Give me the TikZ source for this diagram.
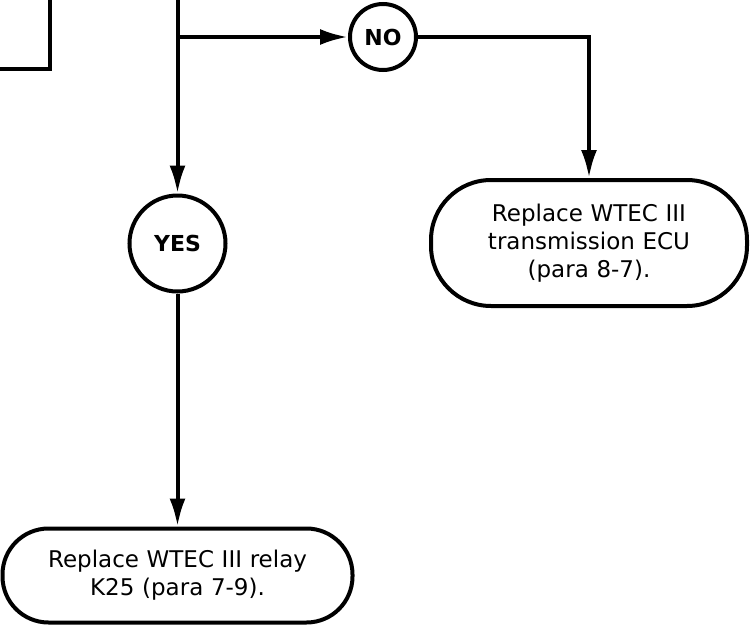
\documentclass[tikz,border=0pt]{standalone}
\usepackage{fontspec}
\setmainfont{DejaVu Sans}
\usetikzlibrary{arrows.meta}
\tikzset{
    answer/.style = {circle, draw=black, line width=2pt, font=\bfseries\fontsize{11}{13}\selectfont, inner sep=0pt},
    action/.style = {rectangle, draw=black, line width=2pt, text centered, font=\fontsize{11.5}{14}\selectfont},
    arrow/.style = {line width=2pt, -{Latex[length=14pt, width=8pt]}},
    line/.style = {line width=2pt}
}

\begin{document}
\begin{tikzpicture}[x=0.5pt, y=-0.5pt]
    \useasboundingbox (0,0) rectangle (751,627);

    \node (no) [answer, minimum size=33pt] at (383, 37) {NO};
    \node (yes) [answer, minimum size=48pt] at (177.5, 243.5) {YES};

    \node (ecu) [action, rounded corners=30pt, minimum width=158pt, minimum height=63pt, text width=150pt] at (589, 243) {Replace WTEC III\\transmission ECU\\(para 8-7).};
    \node (relay) [action, rounded corners=23pt, minimum width=175pt, minimum height=47pt, text width=168pt] at (177.5, 575.5) {Replace WTEC III relay\\K25 (para 7-9).};

    \coordinate (top) at (177.5, 0);
    \coordinate (split) at (177.5, 37);
    \coordinate (prevtop) at (50, 0);
    \coordinate (prevcorner) at (50, 69);
    \coordinate (prevleft) at (0, 69);

    \draw [line] (prevtop) -- (prevcorner) -- (prevleft);

    \draw [arrow] (top) -- (yes.north);
    \draw [arrow] (split) -- (no.west);
    \draw [arrow] (no.east) -| (ecu.north);
    \draw [arrow] (yes.south) -- (relay.north);
\end{tikzpicture}
\end{document}
